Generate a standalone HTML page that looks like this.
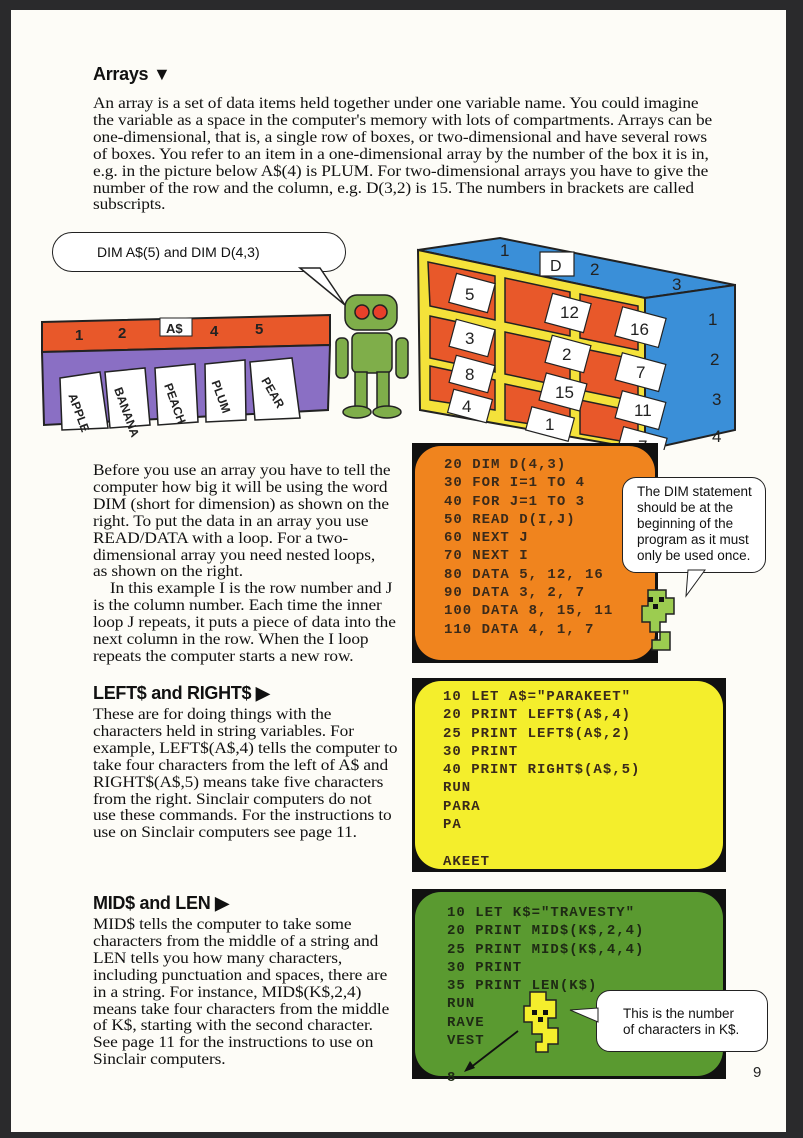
<!DOCTYPE html>
<html><head><meta charset="utf-8"><style>
body{margin:0;width:803px;height:1138px;background:#2a2a2c;position:relative;overflow:hidden;font-family:"Liberation Serif",serif;}
#pg{position:absolute;left:11px;top:10px;width:775px;height:1122px;background:#fdfcf7;}
.a{position:absolute;}
h2{position:absolute;margin:0;font-family:"Liberation Sans",sans-serif;font-weight:bold;font-size:18px;color:#111;letter-spacing:-0.3px}
.t{position:absolute;font-size:15.6px;line-height:16.9px;color:#111;letter-spacing:-0.1px;white-space:nowrap;transform:scaleX(1.11);transform-origin:0 0;}
.scr{position:absolute;border:3px solid #111;background:#111;}
.scr .in{position:absolute;inset:0;border-radius:26px;}
.code{position:absolute;font-family:"Liberation Mono",monospace;font-size:14px;letter-spacing:1.0px;line-height:18.3px;font-weight:bold;color:#3a2a1a;white-space:pre;}
.bub{position:absolute;background:#fff;border:1.5px solid #222;border-radius:14px;font-family:"Liberation Sans",sans-serif;color:#111;}
</style></head><body>
<div id="pg"></div>
<h2 style="left:93px;top:64px">Arrays ▼</h2>
<div class="t" style="left:93px;top:96px">An array is a set of data items held together under one variable name. You could imagine<br>the variable as a space in the computer's memory with lots of compartments. Arrays can be<br>one-dimensional, that is, a single row of boxes, or two-dimensional and have several rows<br>of boxes. You refer to an item in a one-dimensional array by the number of the box it is in,<br>e.g. in the picture below A$(4) is PLUM. For two-dimensional arrays you have to give the<br>number of the row and the column, e.g. D(3,2) is 15. The numbers in brackets are called<br>subscripts.</div>

<div class="bub" style="left:52px;top:232px;width:292px;height:38px;border-radius:20px;font-size:14px;line-height:38px;text-indent:44px">DIM A$(5) and DIM D(4,3)</div>
<svg class="a" style="left:0;top:0" width="803" height="450">
<path d="M300 268 L345 305 L320 268Z" fill="#fff" stroke="#222" stroke-width="1.5"/>
<polygon points="42,322 330,315 330,345 42,352" fill="#e8582a" stroke="#222" stroke-width="2"/>
<polygon points="42,352 330,345 328,410 44,425" fill="#8a6fc4" stroke="#222" stroke-width="2"/>
<g fill="#fff" stroke="#222" stroke-width="1.5">
<polygon points="60,378 100,372 108,428 62,430"/><polygon points="105,372 145,368 150,425 110,428"/>
<polygon points="155,368 195,364 198,422 158,425"/><polygon points="205,364 245,360 246,420 206,422"/>
<polygon points="250,362 292,358 300,418 255,420"/></g>
<g font-family="Liberation Sans" font-size="12" font-weight="bold" fill="#222">
<text x="65" y="400" transform="rotate(70 70 400)">APPLE</text><text x="112" y="392" transform="rotate(70 115 392)">BANANA</text>
<text x="162" y="388" transform="rotate(70 165 388)">PEACH</text><text x="210" y="384" transform="rotate(70 212 384)">PLUM</text>
<text x="260" y="382" transform="rotate(60 262 382)">PEAR</text>
<text x="75" y="340" font-size="15">1</text><text x="118" y="338" font-size="15">2</text>
<rect x="160" y="318" width="32" height="18" fill="#fff" stroke="#222"/><text x="166" y="333" font-size="13">A$</text>
<text x="210" y="336" font-size="15">4</text><text x="255" y="334" font-size="15">5</text></g>
<g stroke="#222" stroke-width="1.5" fill="#7fae4a">
<rect x="345" y="295" width="52" height="35" rx="12"/><circle cx="362" cy="312" r="7" fill="#e8402a"/><circle cx="380" cy="312" r="7" fill="#e8402a"/>
<rect x="352" y="333" width="40" height="40" rx="6"/><rect x="336" y="338" width="12" height="40" rx="5"/><rect x="396" y="338" width="12" height="40" rx="5"/>
<rect x="355" y="372" width="12" height="38"/><rect x="377" y="372" width="12" height="38"/>
<ellipse cx="357" cy="412" rx="14" ry="6"/><ellipse cx="387" cy="412" rx="14" ry="6"/></g>
<polygon points="418,250 500,238 735,285 645,298" fill="#3a8fd8" stroke="#222" stroke-width="2"/>
<polygon points="418,250 645,298 645,450 420,410" fill="#f4e23a" stroke="#222" stroke-width="2"/>
<polygon points="645,298 735,285 735,430 645,450" fill="#3a8fd8" stroke="#222" stroke-width="2"/>
<g fill="#e8582a" stroke="#222" stroke-width="1.5">
<polygon points="428,262 495,276 495,320 430,306"/><polygon points="505,278 570,292 570,336 505,322"/><polygon points="580,294 638,306 638,350 580,338"/>
<polygon points="430,316 495,330 495,372 430,358"/><polygon points="505,332 570,346 570,388 505,374"/><polygon points="580,348 638,360 638,402 580,390"/>
<polygon points="430,366 495,380 495,410 430,400"/><polygon points="505,384 570,398 570,430 505,420"/><polygon points="580,400 638,412 638,444 580,434"/></g>
<g fill="#fff" stroke="#222" stroke-width="1.2">
<rect x="452" y="278" width="40" height="30" transform="rotate(15 472 293)"/><rect x="548" y="298" width="40" height="30" transform="rotate(15 568 313)"/><rect x="618" y="312" width="45" height="30" transform="rotate(15 640 327)"/>
<rect x="452" y="324" width="40" height="28" transform="rotate(15 472 338)"/><rect x="548" y="340" width="40" height="28" transform="rotate(15 568 354)"/><rect x="618" y="358" width="45" height="28" transform="rotate(15 640 372)"/>
<rect x="452" y="360" width="40" height="28" transform="rotate(15 472 374)"/><rect x="542" y="378" width="42" height="28" transform="rotate(15 563 392)"/><rect x="618" y="396" width="45" height="28" transform="rotate(15 640 410)"/>
<rect x="450" y="394" width="40" height="24" transform="rotate(15 470 406)"/><rect x="528" y="412" width="44" height="24" transform="rotate(15 550 424)"/><rect x="620" y="432" width="45" height="22" transform="rotate(15 642 443)"/>
<rect x="540" y="252" width="34" height="24"/></g>
<g font-family="Liberation Sans" font-size="17" fill="#222">
<text x="465" y="300">5</text><text x="560" y="318">12</text><text x="630" y="335">16</text>
<text x="465" y="344">3</text><text x="562" y="360">2</text><text x="636" y="378">7</text>
<text x="465" y="380">8</text><text x="555" y="398">15</text><text x="634" y="416">11</text>
<text x="462" y="412">4</text><text x="545" y="430">1</text><text x="638" y="452">7</text>
<text x="550" y="271" font-size="16">D</text><text x="590" y="275">2</text><text x="500" y="256">1</text><text x="672" y="290">3</text>
<text x="708" y="325">1</text><text x="710" y="365">2</text><text x="712" y="405">3</text><text x="712" y="442">4</text></g>
</svg>

<div class="t" style="left:93px;top:463px">Before you use an array you have to tell the<br>computer how big it will be using the word<br>DIM (short for dimension) as shown on the<br>right. To put the data in an array you use<br>READ/DATA with a loop. For a two-<br>dimensional array you need nested loops,<br>as shown on the right.<br>&nbsp;&nbsp;&nbsp;&nbsp;In this example I is the row number and J<br>is the column number. Each time the inner<br>loop J repeats, it puts a piece of data into the<br>next column in the row. When the I loop<br>repeats the computer starts a new row.</div>

<div class="scr" style="left:412px;top:443px;width:240px;height:214px"><div class="in" style="background:#f0841e"></div>
<div class="code" style="left:29px;top:10px">20 DIM D(4,3)
30 FOR I=1 TO 4
40 FOR J=1 TO 3
50 READ D(I,J)
60 NEXT J
70 NEXT I
80 DATA 5, 12, 16
90 DATA 3, 2, 7
100 DATA 8, 15, 11
110 DATA 4, 1, 7</div></div>
<div class="bub" style="left:622px;top:477px;width:144px;height:96px;font-size:13.5px;line-height:16px;padding:6px 0 0 14px;box-sizing:border-box">The DIM statement should be at the beginning of the program as it must only be used once.</div>
<svg class="a" style="left:0;top:0" width="803" height="1138">
<path d="M688 570 L686 596 L705 570Z" fill="#fff" stroke="#222"/>
<path d="M648 590h18v8h8v16h-8v8h-6v10h10v18h-18v-10h8v-8h-10v-10h-8v-16h6z" fill="#9ccc50" stroke="#222" stroke-width="1.5"/>
<rect x="648" y="597" width="5" height="5" fill="#111"/><rect x="659" y="597" width="5" height="5" fill="#111"/><rect x="653" y="604" width="5" height="5" fill="#111"/>
</svg>

<h2 style="left:93px;top:683px">LEFT$ and RIGHT$ ▶</h2>
<div class="t" style="left:93px;top:707px">These are for doing things with the<br>characters held in string variables. For<br>example, LEFT$(A$,4) tells the computer to<br>take four characters from the left of A$ and<br>RIGHT$(A$,5) means take five characters<br>from the right. Sinclair computers do not<br>use these commands. For the instructions to<br>use on Sinclair computers see page 11.</div>
<div class="scr" style="left:412px;top:678px;width:308px;height:188px"><div class="in" style="background:#f4ee2c"></div>
<div class="code" style="left:28px;top:7px">10 LET A$="PARAKEET"
20 PRINT LEFT$(A$,4)
25 PRINT LEFT$(A$,2)
30 PRINT
40 PRINT RIGHT$(A$,5)
RUN
PARA
PA

AKEET</div></div>

<h2 style="left:93px;top:893px">MID$ and LEN ▶</h2>
<div class="t" style="left:93px;top:917px">MID$ tells the computer to take some<br>characters from the middle of a string and<br>LEN tells you how many characters,<br>including punctuation and spaces, there are<br>in a string. For instance, MID$(K$,2,4)<br>means take four characters from the middle<br>of K$, starting with the second character.<br>See page 11 for the instructions to use on<br>Sinclair computers.</div>
<div class="scr" style="left:412px;top:889px;width:308px;height:184px"><div class="in" style="background:#5a9a30"></div>
<div class="code" style="left:32px;top:12px;color:#1e2a14">10 LET K$="TRAVESTY"
20 PRINT MID$(K$,2,4)
25 PRINT MID$(K$,4,4)
30 PRINT
35 PRINT LEN(K$)
RUN
RAVE
VEST

8</div></div>
<svg class="a" style="left:0;top:0" width="803" height="1138">
<path d="M530 992h16v8h10v18h-8v10h10v16h-10v8h-12v-10h6v-8h-10v-12h-8v-16h6z" fill="#f4ee2c" stroke="#222" stroke-width="1.5"/>
<rect x="532" y="1010" width="5" height="5" fill="#111"/><rect x="543" y="1010" width="5" height="5" fill="#111"/><rect x="538" y="1017" width="5" height="5" fill="#111"/>
<line x1="518" y1="1031" x2="470" y2="1068" stroke="#111" stroke-width="1.8"/><path d="M464 1072 L470 1061 L475 1068Z" fill="#111"/>
</svg>
<div class="bub" style="left:596px;top:990px;width:172px;height:62px;font-size:13.5px;line-height:15.5px;padding:15px 0 0 26px;box-sizing:border-box">This is the number<br>of characters in K$.</div>
<svg class="a" style="left:0;top:0" width="803" height="1138"><path d="M570 1010 L598 1008 L598 1022Z" fill="#fff" stroke="#222"/></svg>
<div class="a" style="left:753px;top:1064px;font-family:'Liberation Sans',sans-serif;font-size:15px;color:#222">9</div>
</body></html>
